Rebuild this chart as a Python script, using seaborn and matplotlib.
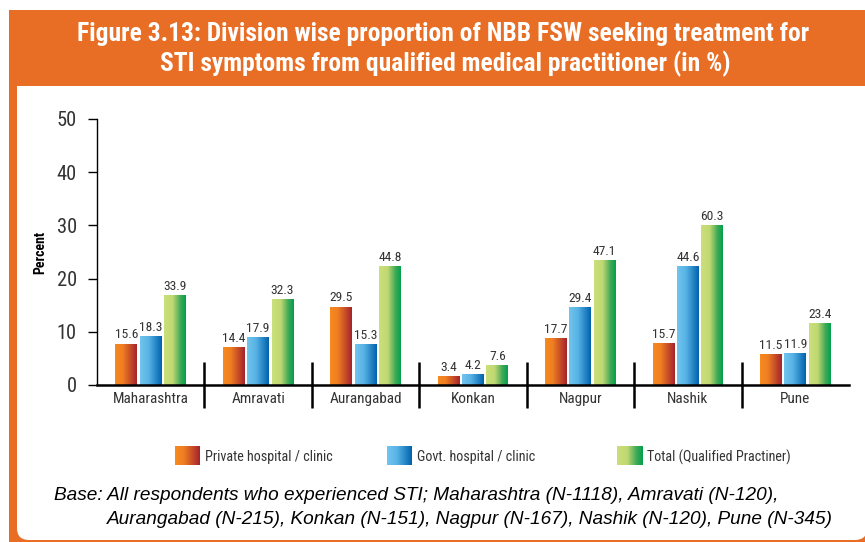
import numpy as np
import pandas as pd
import matplotlib
matplotlib.use("Agg")
import matplotlib.pyplot as plt
import seaborn as sns
from matplotlib import font_manager
from matplotlib.colors import LinearSegmentedColormap
from matplotlib.patches import Rectangle, FancyBboxPatch
from matplotlib.transforms import IdentityTransform, blended_transform_factory

# ---------------- data ----------------
divisions = ["Maharashtra", "Amravati", "Aurangabad", "Konkan", "Nagpur", "Nashik", "Pune"]
series_names = ["Private hospital / clinic", "Govt. hospital / clinic", "Total (Qualified Practiner)"]
private_vals = [15.6, 14.4, 29.5, 3.4, 17.7, 15.7, 11.5]
govt_vals = [18.3, 17.9, 15.3, 4.2, 29.4, 44.6, 11.9]
total_vals = [33.9, 32.3, 44.8, 7.6, 47.1, 60.3, 23.4]
ytick_labels = ["0", "10", "20", "30", "40", "50"]

title_line1 = "Figure 3.13: Division wise proportion of NBB FSW seeking treatment for"
title_line2 = "STI symptoms from qualified medical practitioner (in %)"
note_line1 = "Base: All respondents who experienced STI; Maharashtra (N-1118), Amravati (N-120),"
note_line2 = "Aurangabad (N-215), Konkan (N-151), Nagpur (N-167), Nashik (N-120), Pune (N-345)"

df = pd.DataFrame({
    "Division": divisions * 3,
    "Series": [series_names[0]] * 7 + [series_names[1]] * 7 + [series_names[2]] * 7,
    "Value": private_vals + govt_vals + total_vals,
})

# ---------------- fonts ----------------
sns.set_theme(style="white")
installed = {f.name for f in font_manager.fontManager.ttflist}
narrow_pick = None
for cand in ["Liberation Sans Narrow", "Roboto Condensed", "Open Sans Condensed",
             "Noto Sans Condensed", "DejaVu Sans Condensed", "Liberation Sans", "Roboto"]:
    if cand in installed:
        narrow_pick = cand
        break
NARROW = [narrow_pick, "DejaVu Sans"] if narrow_pick else ["DejaVu Sans"]
FOOT = ["Liberation Sans", "DejaVu Sans"] if "Liberation Sans" in installed else ["DejaVu Sans"]
plt.rcParams["font.family"] = NARROW

ORANGE = "#E86E26"
TXT = "#333333"

grad_cmaps = [
    LinearSegmentedColormap.from_list("o", [(0, "#F68B1F"), (0.35, "#F07E22"), (1, "#A3232C")]),
    LinearSegmentedColormap.from_list("b", [(0, "#72C5EE"), (0.4, "#58B3E5"), (1, "#0062AD")]),
    LinearSegmentedColormap.from_list("g", [(0, "#CBDF7A"), (0.4, "#C0D872"), (0.75, "#3FA957"), (1, "#00A04B")]),
]
base_palette = ["#F07E22", "#3A9AD8", "#7BBF62"]

W, H = 865, 542
fig = plt.figure(figsize=(W / 100, H / 100), dpi=100)
fig.patch.set_facecolor("white")
renderer = fig.canvas.get_renderer()


def fit_size(text, target_px, **kw):
    t = fig.text(0, 0, text, fontsize=10, **kw)
    wpx = t.get_window_extent(renderer).width
    t.remove()
    return 10.0 * target_px / wpx


# frame: orange background with white rounded inner panel
def px_rect(x0, y0_top, x1, y1_top):
    return x0, H - y1_top, x1 - x0, y1_top - y0_top

x, y, w, h = px_rect(9, 10, 880, 560)
fig.add_artist(Rectangle((x, y), w, h, facecolor=ORANGE, edgecolor="none",
                         transform=IdentityTransform(), zorder=0))
x, y, w, h = px_rect(17, 86, 867, 540)
fig.add_artist(FancyBboxPatch((x + 12, y + 12), w - 24, h - 24, boxstyle="round,pad=12,rounding_size=12",
                              facecolor="white", edgecolor="none", transform=IdentityTransform(), zorder=0.5))
x, y, w, h = px_rect(17, 86, 867, 130)
fig.add_artist(Rectangle((x, y), w, h, facecolor="white", edgecolor="none",
                         transform=IdentityTransform(), zorder=0.6))

# title
ts = fit_size(title_line1, 732, fontweight="bold", family=NARROW)
fig.text(443 / W, 1 - 34 / H, title_line1, ha="center", va="center", color="white",
         fontsize=ts, fontweight="bold", family=NARROW, zorder=5)
fig.text(445 / W, 1 - 64 / H, title_line2, ha="center", va="center", color="white",
         fontsize=ts, fontweight="bold", family=NARROW, zorder=5)

# ---------------- axes ----------------
ax = fig.add_axes([97 / W, 1 - 385 / H, (849 - 97) / W, (385 - 119) / H])
ax.set_zorder(2)
ax.patch.set_alpha(0)
sns.barplot(data=df, x="Division", y="Value", hue="Series", order=divisions, hue_order=series_names,
            palette=base_palette, width=0.68, gap=0.1, legend=False, ax=ax, saturation=1)

val_fs = fit_size("33.9", 23.5, family=NARROW)
grad = np.linspace(0, 1, 256)[None, :]
for cont, cmap in zip(ax.containers, grad_cmaps):
    for patch in cont.patches:
        bx, by = patch.get_x(), patch.get_y()
        bw, bh = patch.get_width(), patch.get_height()
        im = ax.imshow(grad, cmap=cmap, extent=[bx, bx + bw, by, by + bh], aspect="auto",
                       interpolation="bilinear", zorder=2)
        im.set_clip_path(patch)
        patch.set_facecolor("none")
        patch.set_edgecolor("none")
    ax.bar_label(cont, labels=[f"{v:.1f}" for v in cont.datavalues], padding=1.5,
                 fontsize=val_fs, color=TXT, family=NARROW)
ax.set_xlim(-0.5, 6.5)
ax.set_ylim(0, 100)

ytick_fs = fit_size("50", 20, family=NARROW)
xtick_fs = fit_size("Maharashtra", 76, family=NARROW)
ax.set_yticks([0, 20, 40, 60, 80, 100])
ax.set_yticklabels(ytick_labels)
ax.tick_params(axis="y", direction="out", length=6.5, width=1.0, pad=8, labelsize=ytick_fs,
               labelcolor=TXT, color="black", left=True)
ax.tick_params(axis="x", length=0, pad=5, labelsize=xtick_fs, labelcolor=TXT)
ax.set_xlabel("")
perc_fs = fit_size("Percent", 43, fontweight="bold", family=NARROW)
ax.set_ylabel("Percent", fontsize=perc_fs, fontweight="bold", color="black", family=NARROW)
ax.yaxis.set_label_coords((47 - 97) / (849 - 97), 0.5)

for s in ["top", "right"]:
    ax.spines[s].set_visible(False)
ax.spines["left"].set_color("black")
ax.spines["left"].set_linewidth(1.0)
ax.spines["bottom"].set_color("black")
ax.spines["bottom"].set_linewidth(1.8)

trans = blended_transform_factory(ax.transData, ax.transAxes)
for i in range(len(divisions) - 1):
    ax.plot([i + 0.5, i + 0.5], [-0.086, 0.086], transform=trans, color="black", lw=1.8,
            clip_on=False, zorder=3, solid_capstyle="butt")

# ---------------- legend ----------------
leg_fs = fit_size(series_names[0], 128, family=NARROW)
sw_x = [175, 387, 617]
for sx, cmap, name in zip(sw_x, grad_cmaps, series_names):
    sax = fig.add_axes([sx / W, 1 - 465 / H, 25 / W, 19 / H])
    sax.set_zorder(3)
    sax.imshow(grad, cmap=cmap, aspect="auto", interpolation="bilinear")
    sax.set_axis_off()
    fig.text((sx + 30) / W, 1 - 457 / H, name, ha="left", va="center", fontsize=leg_fs,
             color=TXT, family=NARROW, zorder=5)

# ---------------- footnote ----------------
fn_fs = fit_size(note_line1, 725, style="italic", family=FOOT)
fig.text(54 / W, 1 - 496 / H, note_line1, ha="left", va="center", fontsize=fn_fs,
         style="italic", color="black", family=FOOT, zorder=5)
fig.text(107 / W, 1 - 519 / H, note_line2, ha="left", va="center", fontsize=fn_fs,
         style="italic", color="black", family=FOOT, zorder=5)

fig.savefig("out.png", dpi=100)
